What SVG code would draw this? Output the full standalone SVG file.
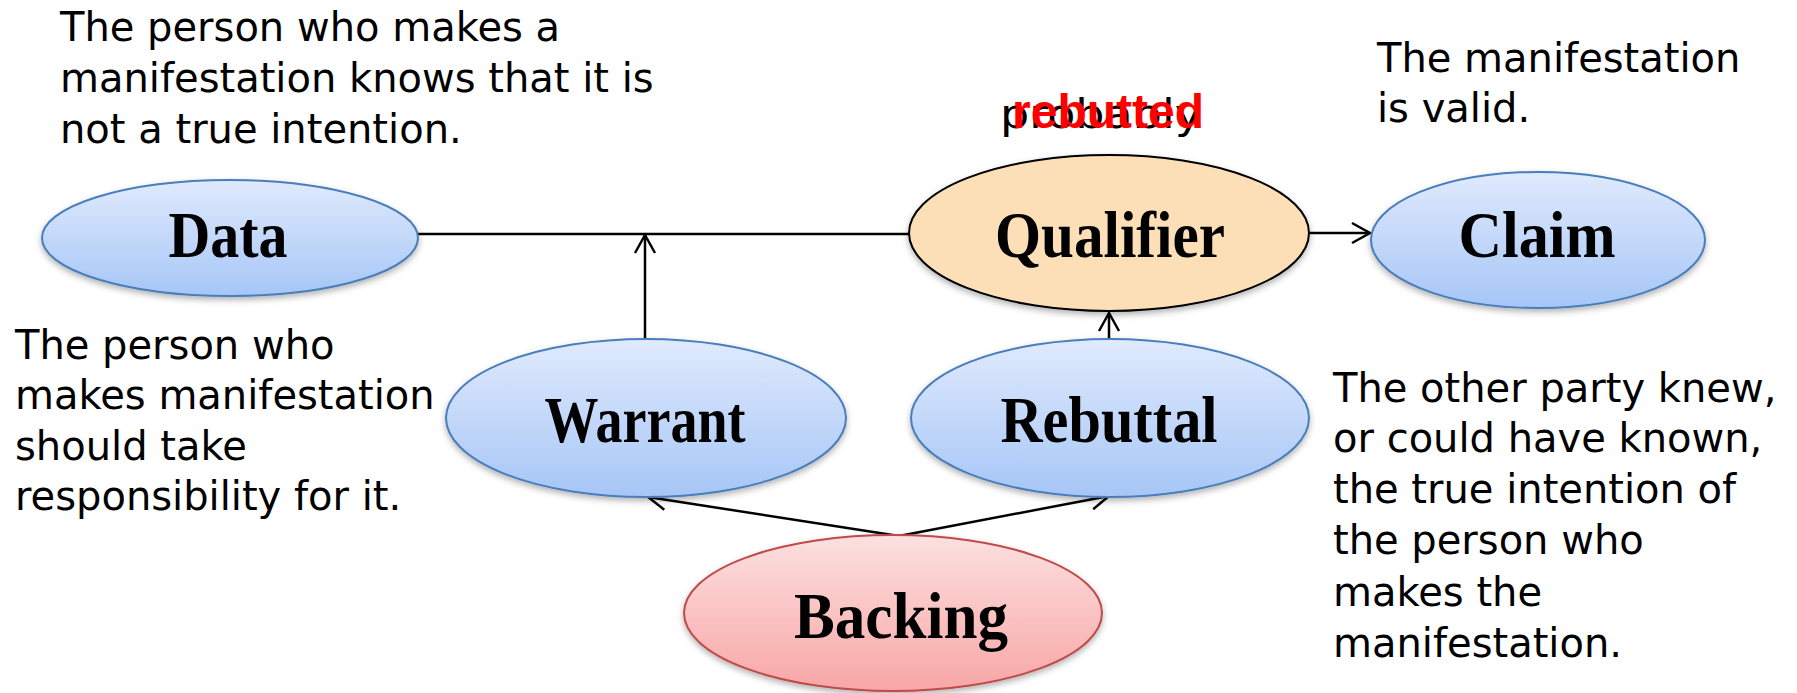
<svg xmlns="http://www.w3.org/2000/svg" width="1797" height="693" viewBox="0 0 1797 693">
  <style>
    .note { font-family: "DejaVu Sans", "Liberation Sans", sans-serif; font-size: 40px; fill: #000; }
    .label { font-family: "Liberation Serif", "Times New Roman", serif; font-size: 66px; font-weight: bold; fill: #000; text-anchor: middle; }
    .blue { fill: url(#gBlue); stroke: #4a7ebb; stroke-width: 2; filter: url(#shadow); }
    .conn { stroke: #000; stroke-width: 2.5; fill: none; }
    .arrow { marker-end: url(#open); }
  </style>
  <defs>
    <linearGradient id="gBlue" x1="0" y1="0" x2="0" y2="1">
      <stop offset="0" stop-color="#e0eafd"/>
      <stop offset="1" stop-color="#a6c6f6"/>
    </linearGradient>
    <linearGradient id="gRed" x1="0" y1="0" x2="0" y2="1">
      <stop offset="0" stop-color="#fde0e0"/>
      <stop offset="1" stop-color="#f8a6a6"/>
    </linearGradient>
    <filter id="shadow" x="-10%" y="-10%" width="120%" height="130%">
      <feDropShadow dx="0" dy="3" stdDeviation="3" flood-color="#000" flood-opacity="0.3"/>
    </filter>
    <marker id="open" markerUnits="userSpaceOnUse" markerWidth="24" markerHeight="24" refX="18" refY="10" orient="auto" overflow="visible">
      <path d="M0,0 L18,10 L0,20" fill="none" stroke="#000" stroke-width="2.5"/>
    </marker>
  </defs>

  <g id="connectors">
    <line class="conn" x1="418" y1="234" x2="910" y2="234"/>
    <line class="conn arrow" x1="1310" y1="233" x2="1370" y2="233"/>
    <line class="conn arrow" x1="645" y1="339" x2="645" y2="235"/>
    <line class="conn arrow" x1="1109" y1="339" x2="1109" y2="313"/>
    <line class="conn arrow" x1="899" y1="536" x2="648" y2="497"/>
    <line class="conn arrow" x1="899" y1="536" x2="1109" y2="496"/>
  </g>

  <g id="data">
    <ellipse class="blue" cx="230" cy="238" rx="188" ry="58"/>
    <text class="label" x="228" y="257" textLength="119" lengthAdjust="spacingAndGlyphs">Data</text>
  </g>
  <g id="qualifier">
    <ellipse cx="1109" cy="233" rx="200" ry="78" fill="#fcdfb6" stroke="#000" stroke-width="2" filter="url(#shadow)"/>
    <text class="label" x="1110" y="257" textLength="230" lengthAdjust="spacingAndGlyphs">Qualifier</text>
  </g>
  <g id="claim">
    <ellipse class="blue" cx="1538" cy="240" rx="167" ry="68"/>
    <text class="label" x="1537" y="257" textLength="157" lengthAdjust="spacingAndGlyphs">Claim</text>
  </g>
  <g id="warrant">
    <ellipse class="blue" cx="646" cy="418" rx="200" ry="79"/>
    <text class="label" x="645" y="442" textLength="201" lengthAdjust="spacingAndGlyphs">Warrant</text>
  </g>
  <g id="rebuttal">
    <ellipse class="blue" cx="1110" cy="418" rx="199" ry="79"/>
    <text class="label" x="1109" y="442" textLength="217" lengthAdjust="spacingAndGlyphs">Rebuttal</text>
  </g>
  <g id="backing">
    <ellipse cx="893" cy="613" rx="209" ry="78" fill="url(#gRed)" stroke="#be4b48" stroke-width="2" filter="url(#shadow)"/>
    <text class="label" x="901" y="638" textLength="214" lengthAdjust="spacingAndGlyphs">Backing</text>
  </g>

  <g id="qualifier-labels">
    <text class="note" x="1000" y="128" textLength="202" lengthAdjust="spacingAndGlyphs">probably</text>
    <text x="1012" y="128" font-family="Liberation Sans, Arial, sans-serif" font-size="48" font-weight="bold" fill="#ff0000">rebutted</text>
  </g>

  <g id="note-data">
    <text class="note" x="60" y="41">The person who makes a</text>
    <text class="note" x="60" y="92">manifestation knows that it is</text>
    <text class="note" x="60" y="143">not a true intention.</text>
  </g>
  <g id="note-claim">
    <text class="note" x="1377" y="72">The manifestation</text>
    <text class="note" x="1377" y="122">is valid.</text>
  </g>
  <g id="note-warrant">
    <text class="note" x="15" y="359">The person who</text>
    <text class="note" x="15" y="409">makes manifestation</text>
    <text class="note" x="15" y="460">should take</text>
    <text class="note" x="15" y="510">responsibility for it.</text>
  </g>
  <g id="note-rebuttal">
    <text class="note" x="1333" y="402">The other party knew,</text>
    <text class="note" x="1333" y="452">or could have known,</text>
    <text class="note" x="1333" y="503">the true intention of</text>
    <text class="note" x="1333" y="554">the person who</text>
    <text class="note" x="1333" y="606">makes the</text>
    <text class="note" x="1333" y="657">manifestation.</text>
  </g>
</svg>
